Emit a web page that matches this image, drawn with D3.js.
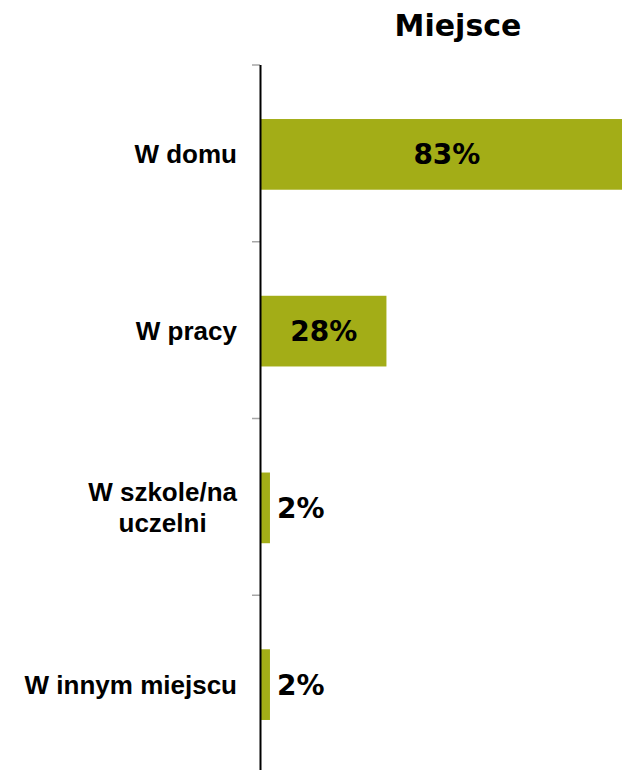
<!DOCTYPE html>
<html>
<head>
<meta charset="utf-8">
<script src="https://cdn.jsdelivr.net/npm/d3@7"></script>
<style>
  body { margin: 0; background: #fff; }
</style>
</head>
<body>
<div id="chart"></div>
<script>
const categories = [['W domu'], ['W pracy'], ['W szkole/na', 'uczelni'], ['W innym miejscu']];
const values = [83, 28, 2, 2];
const title = 'Miejsce';

const width = 622;
const height = 770;
const margin = { top: 65, right: 0, bottom: -2, left: 261 };

const svg = d3.select('#chart')
  .append('svg')
  .attr('width', width)
  .attr('height', height)
  .style('display', 'block');

const x_sc = d3.scaleLinear()
  .domain([0, 100])
  .range([margin.left, margin.left + 448]);

const y_sc = d3.scaleBand()
  .domain(d3.range(categories.length))
  .range([margin.top, height - margin.bottom])
  .paddingInner(0.6)
  .paddingOuter(0.3);

const barColor = '#a3ad17';

// title
svg.append('text')
  .attr('x', 458)
  .attr('y', 36)
  .attr('text-anchor', 'middle')
  .style('font-family', '"DejaVu Sans", Verdana, sans-serif')
  .style('font-weight', 'bold')
  .style('font-size', '30px')
  .text(title);

// ticks between categories
const tickYs = d3.range(categories.length + 1).map(i => y_sc.range()[0] + i * y_sc.step());
svg.selectAll('.tick')
  .data(tickYs)
  .enter()
  .append('line')
  .attr('x1', margin.left - 9)
  .attr('x2', margin.left - 1)
  .attr('y1', d => d)
  .attr('y2', d => d)
  .attr('stroke', '#a6a6a6')
  .attr('stroke-width', 1.5);

// bars
svg.selectAll('.bar')
  .data(values)
  .enter()
  .append('rect')
  .attr('class', 'bar')
  .attr('x', x_sc(0))
  .attr('y', (d, i) => y_sc(i) + 1)
  .attr('width', d => x_sc(d) - x_sc(0))
  .attr('height', y_sc.bandwidth())
  .attr('fill', barColor);

// axis line
svg.append('line')
  .attr('x1', margin.left - 0.5)
  .attr('x2', margin.left - 0.5)
  .attr('y1', margin.top)
  .attr('y2', height)
  .attr('stroke', '#000')
  .attr('stroke-width', 2);

// value labels
svg.selectAll('.val')
  .data(values)
  .enter()
  .append('text')
  .attr('class', 'val')
  .attr('x', d => d > 10 ? (x_sc(0) + x_sc(d)) / 2 : x_sc(d) + 7)
  .attr('y', (d, i) => y_sc(i) + 1 + y_sc.bandwidth() / 2)
  .attr('dy', '0.36em')
  .attr('text-anchor', d => d > 10 ? 'middle' : 'start')
  .style('font-family', '"DejaVu Sans", Verdana, sans-serif')
  .style('font-weight', 'bold')
  .style('font-size', '28px')
  .text(d => d + '%');

// category labels
const lineH = 31;
const right = margin.left - 24;
categories.forEach((lines, i) => {
  const cy = y_sc(i) + 1 + y_sc.bandwidth() / 2;
  const t = svg.append('text')
    .style('font-family', '"Liberation Sans", Arial, sans-serif')
    .style('font-weight', 'bold')
    .style('font-size', '26px')
    .attr('text-anchor', 'middle');
  const spans = lines.map((s, j) => t.append('tspan')
    .attr('y', cy + (j - (lines.length - 1) / 2) * lineH)
    .attr('dy', '0.35em')
    .text(s));
  const maxW = d3.max(spans, s => s.node().getComputedTextLength());
  spans.forEach(s => s.attr('x', right - maxW / 2));
});
</script>
</body>
</html>
